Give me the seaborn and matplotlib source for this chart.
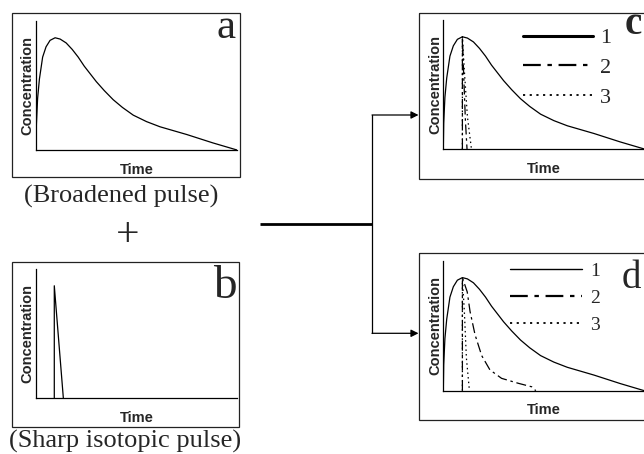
import matplotlib
matplotlib.use("Agg")
import matplotlib.pyplot as plt
from matplotlib.patches import Rectangle
import seaborn as sns

# ---------------- data ----------------
# broadened pulse (panel a, also curve 1 in panels c and d)
TIME_BROAD = [0, 0.02, 0.08, 0.17, 0.33, 0.5, 0.7, 0.95, 1.2, 1.5, 1.8, 2.1, 2.4,
              2.7, 3.0, 3.4, 3.84, 4.3, 4.84, 5.5, 6.17, 7.5, 8.8, 10]
CONC_BROAD = [0, 0.2, 0.4, 0.55, 0.72, 0.8, 0.85, 0.87, 0.86, 0.83, 0.78, 0.72, 0.65,
              0.59, 0.53, 0.46, 0.39, 0.33, 0.27, 0.22, 0.18, 0.12, 0.055, 0]
# sharp isotopic pulse (panel b)
TIME_SHARP = [0.91, 0.91, 1.36]
CONC_SHARP = [0, 0.87, 0]
# panel c: curves 2 and 3
TIME_C2 = [0.95, 0.95, 1.02, 1.1, 1.18]
CONC_C2 = [0, 0.87, 0.55, 0.22, 0]
TIME_C3 = [0.95, 0.95, 1.05, 1.2, 1.4]
CONC_C3 = [0, 0.87, 0.6, 0.25, 0]
# panel d: curves 2 and 3
TIME_D2 = [0.95, 0.95, 1.19, 1.33, 1.58, 1.91, 2.32, 2.9, 3.73, 4.4, 4.6]
CONC_D2 = [0, 0.87, 0.76, 0.61, 0.43, 0.27, 0.16, 0.095, 0.057, 0.03, 0]
TIME_D3 = [0.95, 0.95, 1.05, 1.15, 1.3]
CONC_D3 = [0, 0.87, 0.6, 0.25, 0]

X_LABEL = "Time"
Y_LABEL = "Concentration"
PANEL_LETTERS = ["a", "b", "c", "d"]
CAPTIONS = ["(Broadened pulse)", "(Sharp isotopic pulse)"]
LEGEND_LABELS = ["1", "2", "3"]

# ---------------- style ----------------
sns.set_theme(style="white")
plt.rcParams['font.family'] = ['Liberation Sans', 'DejaVu Sans']
SERIF = ['Liberation Serif', 'DejaVu Serif']

W, H = 644, 454
fig = plt.figure(figsize=(6.44, 4.54), dpi=100)


def frac(left, top, right, bottom):
    return [left / W, 1 - bottom / H, (right - left) / W, (bottom - top) / H]


# overlay for frames, connectors and free text (pixel coordinates)
ov = fig.add_axes([0, 0, 1, 1], zorder=0)
ov.set_xlim(0, W)
ov.set_ylim(H, 0)
ov.axis('off')

for l, t, r, b in [(11.7, 13, 240, 177), (11.7, 261.7, 239.5, 426.7),
                   (418.8, 12.7, 670, 179), (419, 253.3, 670, 420)]:
    ov.add_patch(Rectangle((l, t), r - l, b - t, fill=False,
                           edgecolor='#222222', lw=0.9))

# connectors
ov.plot([260, 372.3], [224, 224], color='black', lw=2.0, solid_capstyle='butt')
ov.plot([372.3, 372.3], [115, 333.3], color='black', lw=0.9)
for yy in (115, 333.3):
    ov.annotate('', xy=(418.5, yy), xytext=(372.0, yy),
                arrowprops=dict(arrowstyle='-|>', color='black', lw=0.9,
                                mutation_scale=11, shrinkA=0, shrinkB=0))

# texts
ov.text(121, 196, CAPTIONS[0], ha='center', va='center', fontsize=19, family=SERIF)
ov.text(127.5, 235.5, "+", ha='center', va='center', fontsize=30, family=SERIF)
ov.text(125, 441, CAPTIONS[1], ha='center', va='center', fontsize=19, family=SERIF)
ov.text(235.5, 38.3, PANEL_LETTERS[0], ha='right', va='baseline', fontsize=31, family=SERIF)
ov.text(237, 298.3, PANEL_LETTERS[1], ha='right', va='baseline', fontsize=34, family=SERIF)
ov.text(625, 33.5, PANEL_LETTERS[2], ha='left', va='baseline', fontsize=28,
        fontweight='bold', family=SERIF)
ov.text(621.7, 288.3, PANEL_LETTERS[3], ha='left', va='baseline', fontsize=28, family=SERIF)


def make_panel(rect):
    ax = fig.add_axes(frac(*rect), zorder=2)
    ax.patch.set_alpha(0)
    ax.set_xlim(0, 10)
    ax.set_ylim(0, 1)
    ax.set_xticks([])
    ax.set_yticks([])
    for s in ('top', 'right'):
        ax.spines[s].set_visible(False)
    for s in ('left', 'bottom'):
        ax.spines[s].set_color('black')
        ax.spines[s].set_linewidth(0.9)
    ax.set_xlabel(X_LABEL, fontsize=10.5, fontweight='bold', labelpad=9.2)
    ax.set_ylabel(Y_LABEL, fontsize=10.5, fontweight='bold', labelpad=1)
    return ax


LW = 0.9
DASHDOT = (0, (8, 3, 2, 3))
DOTTED = (0, (1.2, 2.5))

ax_a = make_panel((36, 21, 237, 150))
sns.lineplot(x=TIME_BROAD, y=CONC_BROAD, ax=ax_a, color='black', lw=LW,
             estimator=None, sort=False)

ax_b = make_panel((36, 269, 237, 398))
sns.lineplot(x=TIME_SHARP, y=CONC_SHARP, ax=ax_b, color='black', lw=LW,
             estimator=None, sort=False)

ax_c = make_panel((443.3, 20, 644.3, 149))
sns.lineplot(x=TIME_BROAD, y=CONC_BROAD, ax=ax_c, color='black', lw=LW,
             estimator=None, sort=False)
sns.lineplot(x=TIME_C2, y=CONC_C2, ax=ax_c, color='black', lw=LW,
             linestyle=DASHDOT, estimator=None, sort=False)
sns.lineplot(x=TIME_C3, y=CONC_C3, ax=ax_c, color='black', lw=LW,
             linestyle=DOTTED, estimator=None, sort=False)

ax_d = make_panel((443.3, 260.7, 644.3, 390.7))
sns.lineplot(x=TIME_BROAD, y=CONC_BROAD, ax=ax_d, color='black', lw=LW,
             estimator=None, sort=False)
sns.lineplot(x=TIME_D2, y=CONC_D2, ax=ax_d, color='black', lw=LW,
             linestyle=DASHDOT, estimator=None, sort=False)
sns.lineplot(x=TIME_D3, y=CONC_D3, ax=ax_d, color='black', lw=LW,
             linestyle=DOTTED, estimator=None, sort=False)


def add_legend(ax, anchor, hlen, pad, spacing, size, widths):
    leg = ax.legend(handles=ax.lines[:3], labels=LEGEND_LABELS, loc='upper left',
                    bbox_to_anchor=anchor, frameon=False, borderpad=0,
                    borderaxespad=0, handlelength=hlen, handletextpad=pad,
                    labelspacing=spacing, prop={'family': SERIF, 'size': size})
    for h, w in zip(leg.legend_handles, widths):
        h.set_linewidth(w)
    return leg


add_legend(ax_c, (0.395, 0.94), 3.15, 0.33, 0.41, 16, [2.2, 1.6, 1.3])
add_legend(ax_d, (0.332, 0.99), 3.7, 0.43, 0.5, 14, [1.0, 1.6, 1.3])

fig.savefig("out.png", dpi=100)
